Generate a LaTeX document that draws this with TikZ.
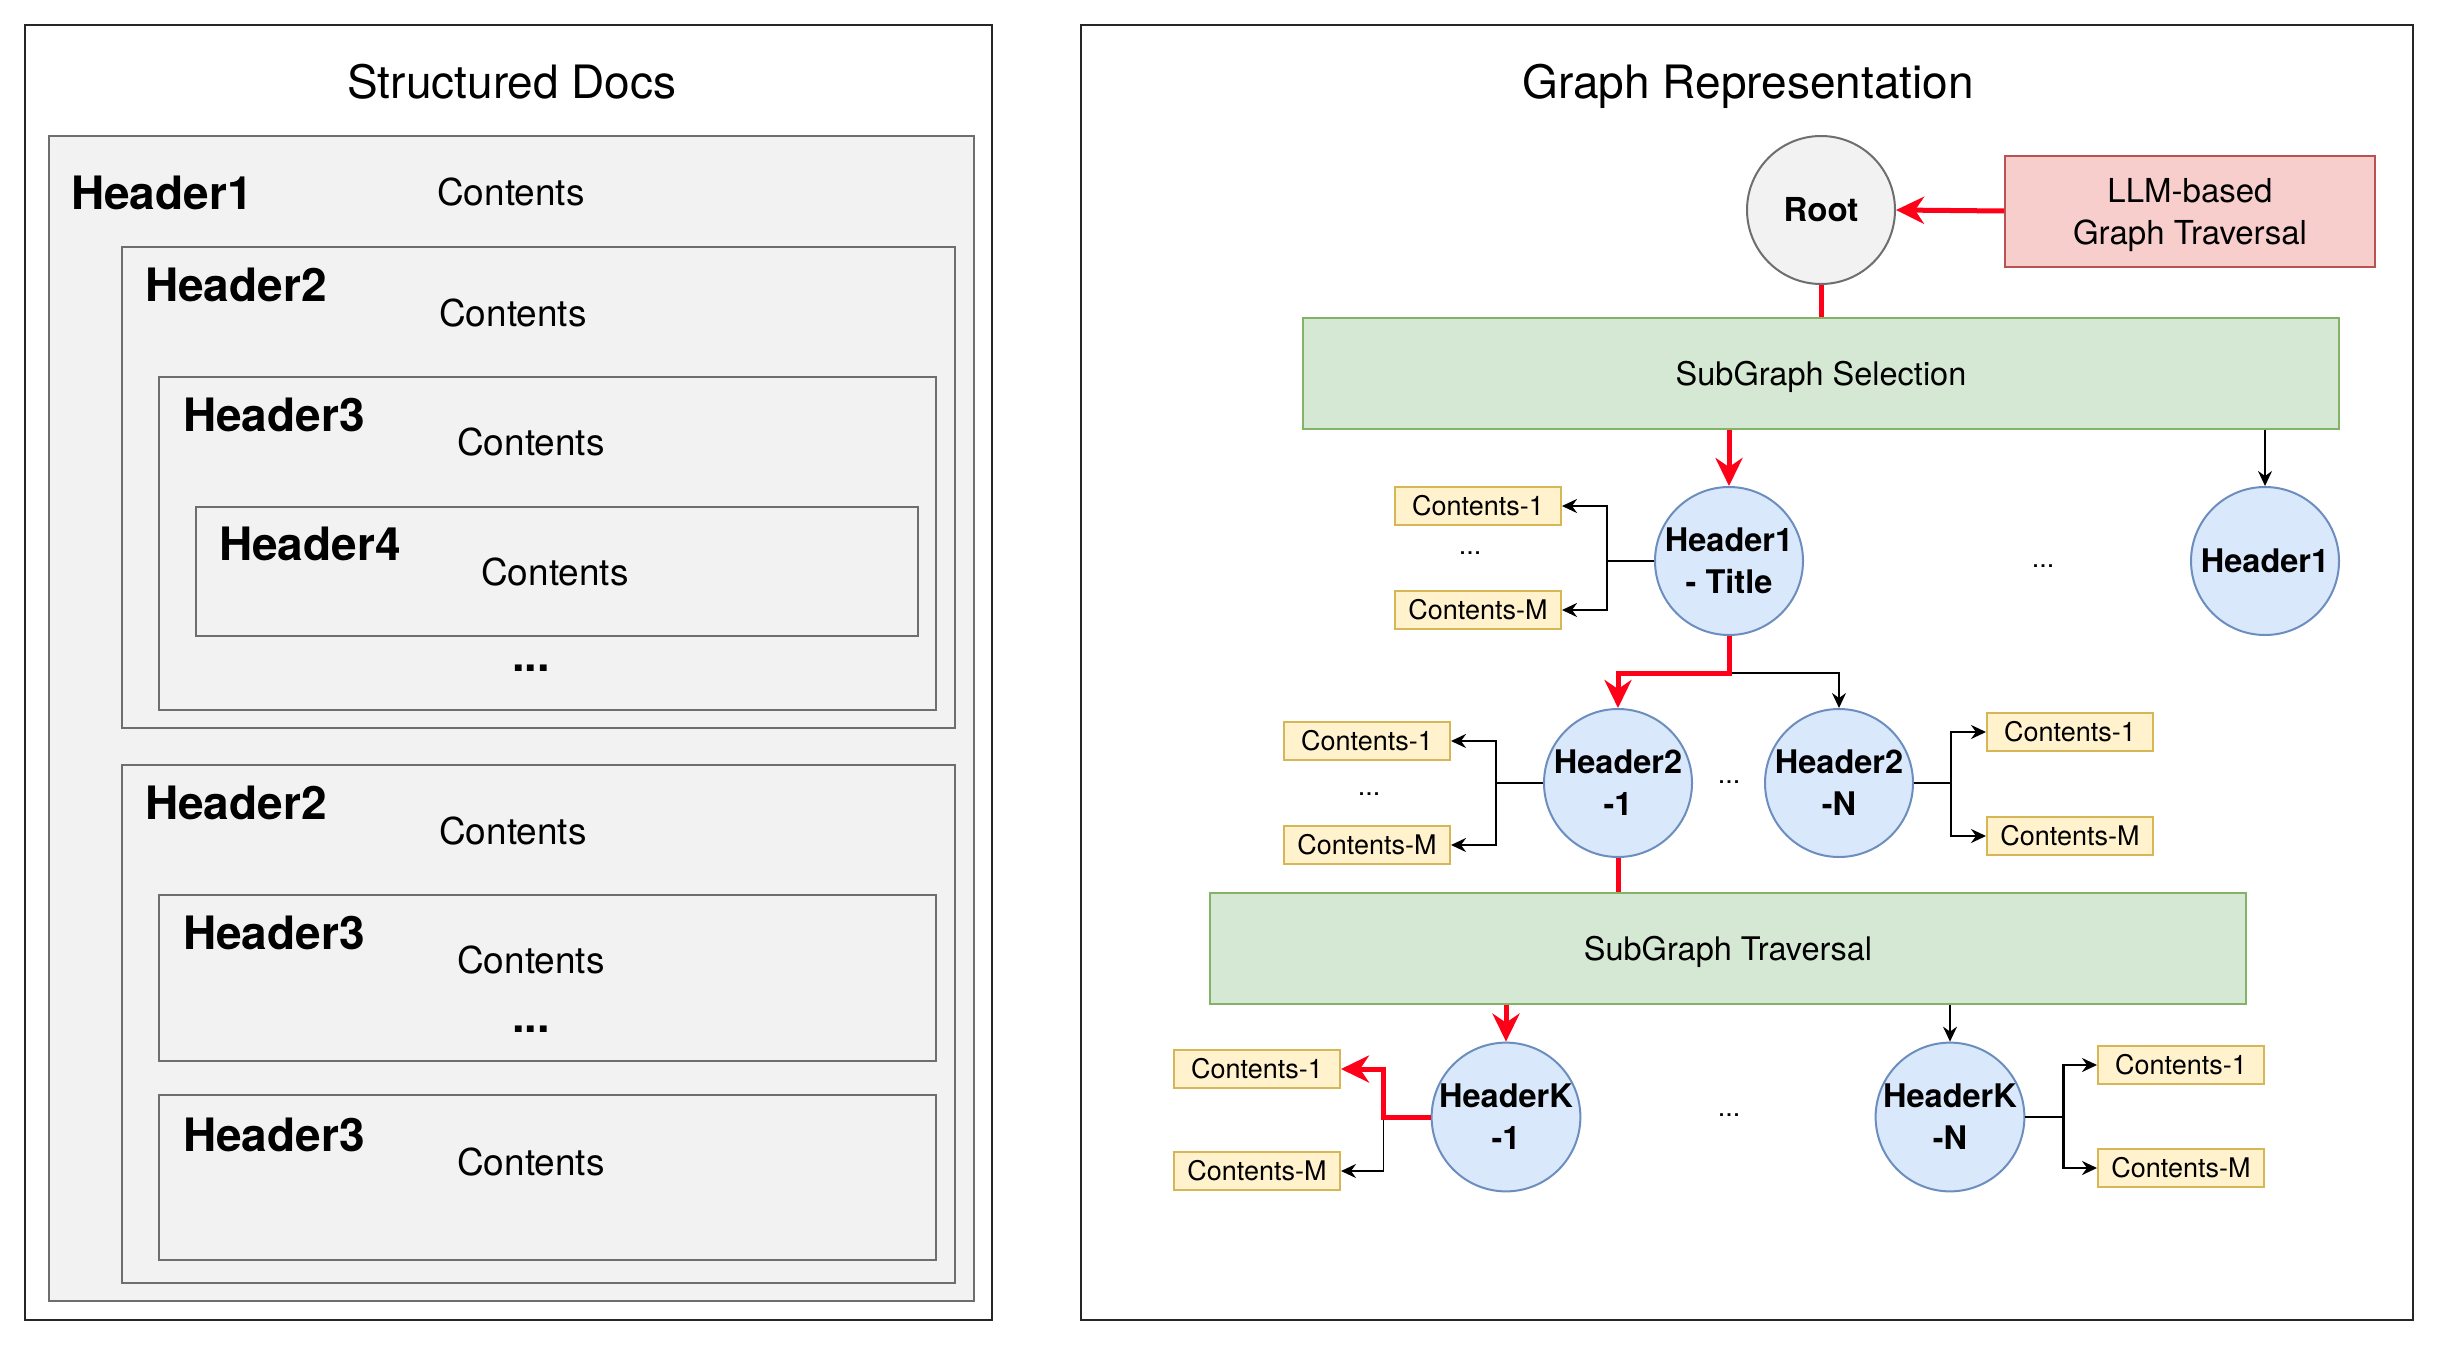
\documentclass[tikz,border=0pt]{standalone}
\usepackage{fontspec}
\setmainfont{TeX Gyre Heros}
\usetikzlibrary{arrows.meta}
\definecolor{docfill}{HTML}{F2F2F2}
\definecolor{docdraw}{HTML}{6E6E6E}
\definecolor{bluefill}{HTML}{DAE8FC}
\definecolor{bluedraw}{HTML}{6C8EBF}
\definecolor{greenfill}{HTML}{D5E8D4}
\definecolor{greendraw}{HTML}{82B366}
\definecolor{redfill}{HTML}{F8CECC}
\definecolor{reddraw}{HTML}{B85450}
\definecolor{yelfill}{HTML}{FFF2CC}
\definecolor{yeldraw}{HTML}{D6B656}
\definecolor{pathred}{HTML}{FF0019}
\tikzset{
  panel/.style={draw=black!85, line width=2pt, fill=white},
  docbox/.style={draw=docdraw, fill=docfill, line width=2pt},
  titletxt/.style={font=\fontsize{46}{55}\selectfont, inner sep=0pt, anchor=base},
  hdr/.style={font=\fontsize{46}{55}\selectfont\bfseries, inner sep=0pt, anchor=base west},
  cnt/.style={font=\fontsize{37}{44}\selectfont, inner sep=0pt, anchor=base west},
  bigdots/.style={font=\fontsize{45}{54}\selectfont\bfseries, inner sep=0pt},
  smalldots/.style={font=\fontsize{27}{32}\selectfont, inner sep=0pt},
  hnode/.style={circle, draw=bluedraw, fill=bluefill, line width=2pt, minimum size=148pt, inner sep=0pt,
     align=center, font=\fontsize{32.5}{42}\selectfont\bfseries},
  rootnode/.style={circle, draw=docdraw, fill=docfill, line width=2pt, minimum size=148pt, inner sep=0pt,
     font=\fontsize{33}{40}\selectfont\bfseries},
  greenbox/.style={draw=greendraw, fill=greenfill, line width=2pt, minimum width=1036pt, minimum height=111pt,
     text depth=0pt, font=\fontsize{32.5}{40}\selectfont},
  llmbox/.style={draw=reddraw, fill=redfill, line width=2pt, minimum width=370pt, minimum height=111pt,
     align=center, text depth=0pt, font=\fontsize{33}{42}\selectfont},
  ybox/.style={draw=yeldraw, fill=yelfill, line width=2pt, minimum width=166pt, minimum height=38pt,
     inner sep=0pt, font=\fontsize{27}{32}\selectfont},
  redarr/.style={draw=pathred, line width=5pt, -{Stealth[length=28pt, width=27pt, inset=9pt]}},
  redline/.style={draw=pathred, line width=5pt},
  blkarr/.style={draw=black, line width=2.5pt, -{Stealth[length=15pt, width=14pt, inset=5pt]}},
  thinarr/.style={draw=black, line width=1.6pt, -{Stealth[length=15pt, width=14pt, inset=5pt]}},
  blkline/.style={draw=black, line width=2.5pt},
}
\begin{document}
\begin{tikzpicture}[x=1pt,y=-1pt]
\useasboundingbox (0,0) rectangle (2440,1354);
% ---------- left panel ----------
\node[panel, minimum width=967pt, minimum height=1295pt, inner sep=0pt] (lpanel) at (508.5,672.5) {};
\node[titletxt] (ltitle) at (512,98) {Structured Docs};
\node[docbox, minimum width=925.5pt, minimum height=1165pt, inner sep=0pt] (b1) at (511.25,718.5) {};
\node[hdr] (h1) at (71,209) {Header1};
\node[cnt] (c1) at (437,205) {Contents};
\node[docbox, minimum width=833pt, minimum height=481pt, inner sep=0pt] (b2) at (538.5,487.5) {};
\node[hdr] (h2) at (145,301) {Header2};
\node[cnt] (c2) at (439,326) {Contents};
\node[docbox, minimum width=777pt, minimum height=333pt, inner sep=0pt] (b3) at (547.5,543.5) {};
\node[hdr] (h3) at (183,431) {Header3};
\node[cnt] (c3) at (457,455) {Contents};
\node[docbox, minimum width=722pt, minimum height=129pt, inner sep=0pt] (b4) at (557,571.5) {};
\node[hdr] (h4) at (219,560) {Header4};
\node[cnt] (c4) at (481,585) {Contents};
\node[bigdots] (d1) at (531,668) {...};
\node[docbox, minimum width=833pt, minimum height=518pt, inner sep=0pt] (b5) at (538.5,1024) {};
\node[hdr] (h5) at (145,819) {Header2};
\node[cnt] (c5) at (439,844) {Contents};
\node[docbox, minimum width=777pt, minimum height=166pt, inner sep=0pt] (b6) at (547.5,978) {};
\node[hdr] (h6) at (183,949) {Header3};
\node[cnt] (c6) at (457,973) {Contents};
\node[bigdots] (d2) at (531,1029) {...};
\node[docbox, minimum width=777pt, minimum height=165pt, inner sep=0pt] (b7) at (547.5,1177.5) {};
\node[hdr] (h7) at (183,1151) {Header3};
\node[cnt] (c7) at (457,1175) {Contents};
% ---------- right panel ----------
\node[panel, minimum width=1332pt, minimum height=1295pt, inner sep=0pt] (rpanel) at (1747,672.5) {};
\node[titletxt] (rtitle) at (1748,98) {Graph Representation};
\node[rootnode] (root) at (1821,210) {Root};
\node[llmbox] (llm) at (2190,211) {LLM-based\\Graph Traversal};
\node[greenbox] (sel) at (1821,373) {SubGraph Selection};
\node[hnode] (h1t) at (1729,561) {Header1\\- Title};
\node[hnode] (h1r) at (2265,561) {Header1};
\node[smalldots] (dd1) at (2043,566) {...};
\node[ybox] (c1a) at (1478,506) {Contents-1};
\node[ybox] (cma) at (1478,610) {Contents-M};
\node[smalldots] (dd2) at (1470,553) {...};
\node[hnode] (h21) at (1618,783) {Header2\\-1};
\node[hnode] (h2n) at (1839,783) {Header2\\-N};
\node[smalldots] (dd3) at (1729,782) {...};
\node[ybox] (c1b) at (1367,741) {Contents-1};
\node[ybox] (cmb) at (1367,845) {Contents-M};
\node[smalldots] (dd4) at (1369,794) {...};
\node[ybox] (c1c) at (2070,732) {Contents-1};
\node[ybox] (cmc) at (2070,836) {Contents-M};
\node[greenbox] (trav) at (1728,948) {SubGraph Traversal};
\node[hnode] (hk1) at (1506,1117) {HeaderK\\-1};
\node[hnode] (hkn) at (1950,1117) {HeaderK\\-N};
\node[smalldots] (dd5) at (1729,1115) {...};
\node[ybox] (c1d) at (1257,1069) {Contents-1};
\node[ybox] (cmd) at (1257,1171) {Contents-M};
\node[ybox] (c1e) at (2181,1065) {Contents-1};
\node[ybox] (cme) at (2181,1168) {Contents-M};
% ---------- connectors ----------
\draw[redarr] (llm.west) -- (root.east);
\draw[redline] (root.south) -- (sel.north);
\draw[redarr] (sel.south -| h1t) -- (h1t.north);
\draw[thinarr] (sel.south -| h1r) -- (h1r.north);
\draw[blkarr] (h1t.west) -- ++(-47,0) |- (c1a.east);
\draw[blkarr] (h1t.west) -- ++(-47,0) |- (cma.east);
\coordinate (e1) at ([yshift=-37pt]h1t.south);
\draw[thinarr] (e1) -| (h2n.north);
\draw[redarr] (h1t.south) -- (e1) -| (h21.north);
\draw[blkarr] (h21.west) -- ++(-47,0) |- (c1b.east);
\draw[blkarr] (h21.west) -- ++(-47,0) |- (cmb.east);
\draw[blkarr] (h2n.east) -- ++(37,0) |- (c1c.west);
\draw[blkarr] (h2n.east) -- ++(37,0) |- (cmc.west);
\draw[redline] (h21.south) -- (trav.north -| h21);
\draw[redarr] (trav.south -| hk1) -- (hk1.north);
\draw[thinarr] (trav.south -| hkn) -- (hkn.north);
\coordinate (e2) at ([xshift=-47pt]hk1.west);
\draw[thinarr] (e2) |- (cmd.east);
\draw[redarr] (hk1.west) -- (e2) |- (c1d.east);
\draw[blkarr] (hkn.east) -- ++(38,0) |- (c1e.west);
\draw[blkarr] (hkn.east) -- ++(38,0) |- (cme.west);
\end{tikzpicture}
\end{document}
